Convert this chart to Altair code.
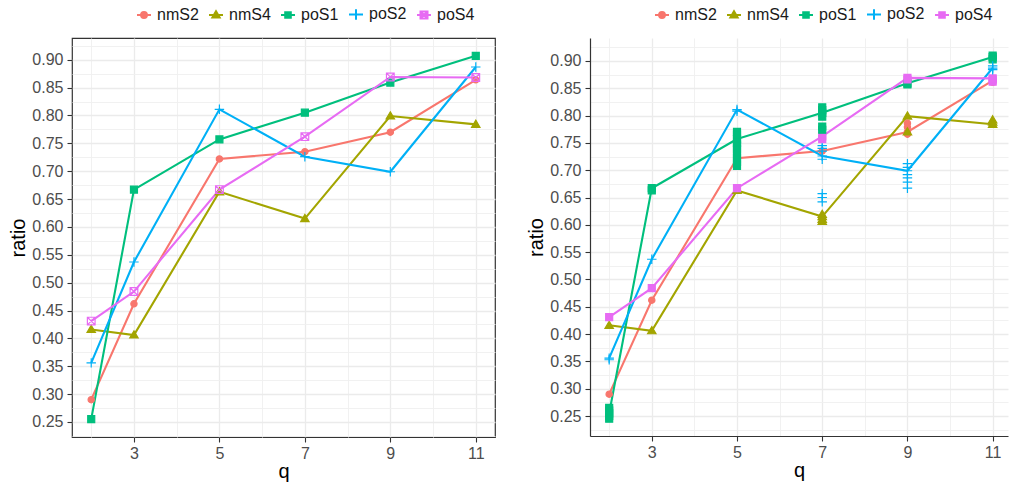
import altair as alt
import pandas as pd

# ---------------- data ----------------
series = ["nmS2", "nmS4", "poS1", "poS2", "poS4"]
colors = ["#F8766D", "#A3A500", "#00BF7D", "#00B0F6", "#E76BF3"]
q_vals = [2, 3, 5, 7, 9, 11]

nmS2 = [0.290, 0.462, 0.722, 0.735, 0.770, 0.864]
nmS4 = [0.416, 0.406, 0.663, 0.615, 0.799, 0.784]
poS1 = [0.255, 0.667, 0.757, 0.805, 0.859, 0.907]
poS2 = [0.356, 0.537, 0.811, 0.726, 0.699, 0.887]
poS4 = [0.431, 0.484, 0.667, 0.762, 0.869, 0.868]

# extra replicate points shown in the right panel
rep_nmS2_q = [9, 9, 9, 11, 11]
rep_nmS2_v = [0.786, 0.779, 0.766, 0.861, 0.866]
rep_nmS4_q = [7, 7, 7, 9, 11, 11]
rep_nmS4_v = [0.619, 0.610, 0.606, 0.770, 0.792, 0.788]
rep_poS1_q = [2, 2, 2, 2, 3, 5, 5, 5, 5, 5, 5, 5, 5, 5, 7, 7, 7, 7, 7, 9, 11, 11]
rep_poS1_v = [0.265, 0.260, 0.250, 0.245, 0.663, 0.770, 0.765, 0.750, 0.745, 0.738,
              0.730, 0.722, 0.715, 0.708, 0.815, 0.810, 0.798, 0.780, 0.774, 0.857,
              0.910, 0.903]
rep_poS2_q = [2, 5, 7, 7, 7, 7, 7, 7, 7, 9, 9, 9, 9, 9, 9, 11, 11]
rep_poS2_v = [0.353, 0.808, 0.745, 0.740, 0.735, 0.720, 0.657, 0.650, 0.642,
              0.712, 0.705, 0.692, 0.686, 0.678, 0.667, 0.891, 0.884]
rep_poS4_q = [7, 9, 11, 11]
rep_poS4_v = [0.757, 0.866, 0.862, 0.866]

y_ticks = [0.25, 0.30, 0.35, 0.40, 0.45, 0.50, 0.55, 0.60, 0.65, 0.70, 0.75, 0.80, 0.85, 0.90]
y_minor = [0.225, 0.275, 0.325, 0.375, 0.425, 0.475, 0.525, 0.575, 0.625, 0.675,
           0.725, 0.775, 0.825, 0.875, 0.925]
x_ticks = [3, 5, 7, 9, 11]
x_minor = [2, 4, 6, 8, 10]

means = {"nmS2": nmS2, "nmS4": nmS4, "poS1": poS1, "poS2": poS2, "poS4": poS4}
reps = {"nmS2": (rep_nmS2_q, rep_nmS2_v), "nmS4": (rep_nmS4_q, rep_nmS4_v),
        "poS1": (rep_poS1_q, rep_poS1_v), "poS2": (rep_poS2_q, rep_poS2_v),
        "poS4": (rep_poS4_q, rep_poS4_v)}

df_line = pd.DataFrame([{"series": s, "q": q, "ratio": v}
                        for s in series for q, v in zip(q_vals, means[s])])
df_rep = pd.DataFrame([{"series": s, "q": q, "ratio": v}
                       for s in series for q, v in zip(*reps[s])])
df_right_pts = pd.concat([df_line, df_rep], ignore_index=True)

# ---------------- shapes ----------------
circ = "M0.9,0A0.9,0.9,0,1,1,-0.9,0A0.9,0.9,0,1,1,0.9,0Z"
tri = "M0,-1.2L1.2,0.85L-1.2,0.85Z"
plus = "M-1.35,0L1.35,0M0,-1.35L0,1.35"
xsq = "M-1.1,-1.1L1.1,-1.1L1.1,1.1L-1.1,1.1ZM-1.1,-1.1L1.1,1.1M1.1,-1.1L-1.1,1.1"

lg_circ = "M-1,0L1,0M0.42,0A0.42,0.42,0,1,1,-0.42,0A0.42,0.42,0,1,1,0.42,0Z"
lg_tri = "M-1,0L1,0M0,-0.55L0.52,0.36L-0.52,0.36Z"
lg_sq = "M-1,0L1,0M-0.4,-0.4L0.4,-0.4L0.4,0.4L-0.4,0.4Z"
lg_plus = "M-1,0L1,0M0,-0.75L0,0.75"
lg_xsq = "M-1,0L1,0M-0.5,-0.5L0.5,-0.5L0.5,0.5L-0.5,0.5ZM-0.5,-0.5L0.5,0.5M0.5,-0.5L-0.5,0.5"

FONT = "Liberation Sans"


def panel(df_pts, plot_shapes, plot_fills, leg_shapes, leg_fills,
          x_dom, y_dom, width, height, boxed):
    xs = alt.Scale(domain=x_dom, nice=False, zero=False)
    ys = alt.Scale(domain=y_dom, nice=False, zero=False)
    main_common = dict(grid=True, gridColor="#EBEBEB", gridWidth=1.3,
                       tickColor="#333333", tickSize=5, tickWidth=1.1,
                       labelColor="#4D4D4D", labelFontSize=16, labelFont=FONT,
                       titleFont=FONT, titleFontSize=20, titleColor="#000000",
                       titleFontWeight="normal",
                       domain=not boxed, domainColor="#333333", domainWidth=1.2)
    minor_common = dict(grid=True, gridColor="#EFEFEF", gridWidth=0.9,
                        labels=False, ticks=False, domain=False, title=None)
    lg = alt.Legend(orient="none", legendX=64, legendY=-32, direction="horizontal",
                    title=None, labelFont=FONT, labelFontSize=16, labelColor="#1A1A1A",
                    symbolSize=196, symbolStrokeWidth=2, labelOffset=5,
                    columnPadding=6, padding=0)

    leg = alt.Chart(df_line).transform_filter("false").mark_point(strokeWidth=2, opacity=1).encode(
        x=alt.X("q:Q", scale=xs, axis=alt.Axis(values=x_minor, orient="bottom", **minor_common)),
        y=alt.Y("ratio:Q", scale=ys, axis=alt.Axis(values=y_minor, orient="left", **minor_common)),
        stroke=alt.Stroke("series:N", scale=alt.Scale(domain=series, range=colors), legend=lg),
        fill=alt.Fill("series:N", scale=alt.Scale(domain=series, range=leg_fills), legend=lg),
        shape=alt.Shape("series:N", scale=alt.Scale(domain=series, range=leg_shapes), legend=lg),
    )
    line = alt.Chart(df_line).mark_line(strokeWidth=2.1).encode(
        x=alt.X("q:Q", scale=xs,
                axis=alt.Axis(values=x_ticks, orient="bottom", title="q", format="d",
                              labelPadding=3, titlePadding=0, **main_common)),
        y=alt.Y("ratio:Q", scale=ys,
                axis=alt.Axis(values=y_ticks, orient="left", title="ratio", format=".2f",
                              labelPadding=4, titlePadding=3, **main_common)),
        stroke=alt.Stroke("series:N", scale=alt.Scale(domain=series, range=colors), legend=None),
    )
    pts = alt.Chart(df_pts).mark_point(size=49, strokeWidth=1.2, opacity=1).encode(
        x=alt.X("q:Q", scale=xs, axis=None),
        y=alt.Y("ratio:Q", scale=ys, axis=None),
        stroke=alt.Stroke("series:N", scale=alt.Scale(domain=series, range=colors), legend=None),
        fill=alt.Fill("series:N", scale=alt.Scale(domain=series, range=plot_fills), legend=None),
        shape=alt.Shape("series:N", scale=alt.Scale(domain=series, range=plot_shapes), legend=None),
    )
    view = (alt.ViewBackground(stroke="#333333", strokeWidth=1.2) if boxed
            else alt.ViewBackground(stroke="transparent"))
    return alt.layer(leg, line, pts).resolve_scale(
        stroke="independent", fill="independent", shape="independent"
    ).resolve_axis(x="independent", y="independent").properties(
        width=width, height=height, view=view)


left = panel(
    df_line,
    [circ, tri, "square", plus, xsq],
    [colors[0], colors[1], colors[2], "transparent", "transparent"],
    [lg_circ, lg_tri, lg_sq, lg_plus, lg_xsq],
    [colors[0], colors[1], colors[2], "transparent", "transparent"],
    [1.55, 11.45], [0.223, 0.939], 423, 399, True)

right = panel(
    df_right_pts,
    [circ, tri, "square", plus, "square"],
    [colors[0], colors[1], colors[2], "transparent", colors[4]],
    [lg_circ, lg_tri, lg_sq, lg_plus, lg_sq],
    [colors[0], colors[1], colors[2], "transparent", colors[4]],
    [1.55, 11.36], [0.2134, 0.942], 418, 398, False)

chart = alt.hconcat(left, right, spacing=30).resolve_scale(
    x="independent", y="independent", stroke="independent", fill="independent",
    shape="independent").resolve_legend(
    stroke="independent", fill="independent", shape="independent").properties(
    padding={"left": 8, "top": 5, "right": 0, "bottom": 0}
).configure_view(continuousWidth=400)

chart.save("out.html", embed_options={"renderer": "svg", "actions": False})
